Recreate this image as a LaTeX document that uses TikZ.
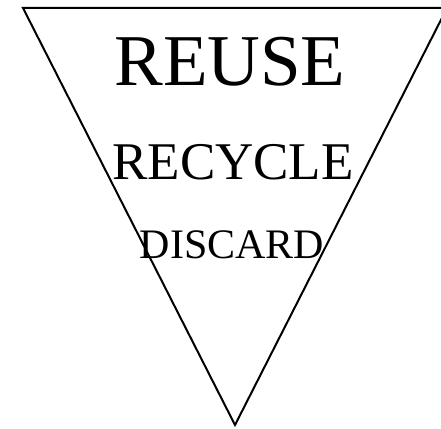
\documentclass[tikz,border=0pt]{standalone}
\usepackage{fontspec}
\setmainfont{Liberation Serif}
\usepackage{tikz}
\usetikzlibrary{positioning}

\begin{document}
\begin{tikzpicture}[x=1pt, y=-1pt, word/.style={anchor=base, inner sep=0pt}]
\useasboundingbox (0,0) rectangle (441,428);
\clip (0,0) rectangle (441,428);
% the funnel
\coordinate (tl) at (23,8);
\coordinate (tr) at (447,8);
\coordinate (tip) at (235,425);
\draw[line width=2pt, line join=miter] (tl) -- (tr) -- (tip) -- cycle;
% the three words
\node[word, font=\fontsize{73}{80}\selectfont] (reuse) at (230,85) {REUSE};
\node[word, font=\fontsize{53}{60}\selectfont] (recycle) at (233,179) {RECYCLE};
\node[word, font=\fontsize{42}{48}\selectfont] (discard) at (232,258) {DISCARD};
\end{tikzpicture}
\end{document}
